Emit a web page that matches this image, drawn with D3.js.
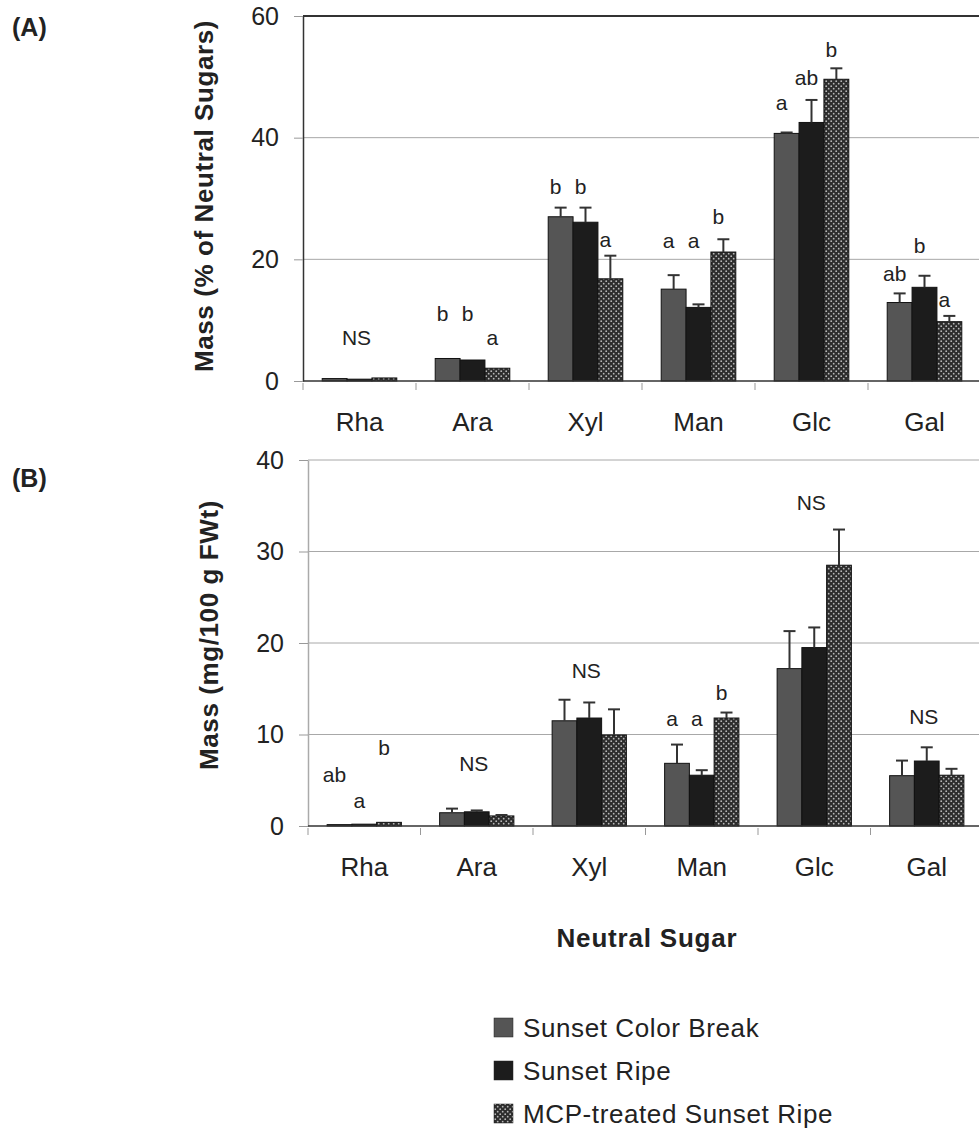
<!DOCTYPE html>
<html>
<head>
<meta charset="utf-8">
<script src="https://cdn.jsdelivr.net/npm/d3@7"></script>
<style>
  body { margin: 0; background: #fff; }
  text { font-family: "Liberation Sans", Arial, sans-serif; fill: #222; }
</style>
</head>
<body>
<div id="chart"></div>
<script>

// ---------------- data ----------------

const sugars = ["Rha", "Ara", "Xyl", "Man", "Glc", "Gal"];
const series = ["Sunset Color Break", "Sunset Ripe", "MCP-treated Sunset Ripe"];

// (A) mass, % of neutral sugars
const pctColorBreak = [0.4, 3.7, 27.0, 15.1, 40.7, 12.9];
const pctRipe       = [0.3, 3.45, 26.1, 12.1, 42.5, 15.4];
const pctMCP        = [0.5, 2.1, 16.8, 21.2, 49.6, 9.75];
const pctErrColorBreak = [0, 0, 1.5, 2.3, 0.15, 1.5];
const pctErrRipe       = [0, 0, 2.4, 0.5, 3.7, 1.9];
const pctErrMCP        = [0, 0, 3.8, 2.1, 1.8, 0.95];
const pctLetters = [
    ["", "b", "b", "a", "a", "ab"],
    ["", "b", "b", "a", "ab", "b"],
    ["", "a", "a", "b", "b", "a"]
];
// height (in % units) where each letter sits
const pctLetterAt = [
    [0, 9.9, 30.7, 21.9, 44.5, 16.4],
    [0, 9.9, 30.7, 21.9, 48.7, 21.0],
    [0, 5.9, 22.0, 25.8, 53.3, 12.2]
];
const pctNS = [{sugar: "Rha", at: 6.0}];

// (B) mass, mg / 100 g FWt
const mgColorBreak = [0.15, 1.45, 11.5, 6.85, 17.2, 5.5];
const mgRipe       = [0.2, 1.55, 11.8, 5.55, 19.5, 7.1];
const mgMCP        = [0.4, 1.1, 9.95, 11.8, 28.5, 5.55];
const mgErrColorBreak = [0, 0.45, 2.3, 2.05, 4.1, 1.65];
const mgErrRipe       = [0, 0.15, 1.7, 0.55, 2.2, 1.5];
const mgErrMCP        = [0, 0.1, 2.8, 0.6, 3.9, 0.7];
const mgLetters = [
    ["ab", "", "", "a", "", ""],
    ["a", "", "", "a", "", ""],
    ["b", "", "", "b", "", ""]
];
const mgLetterAt = [
    [4.8, 0, 0, 10.9, 0, 0],
    [1.97, 0, 0, 10.9, 0, 0],
    [7.76, 0, 0, 13.8, 0, 0]
];
const mgNS = [
    {sugar: "Ara", at: 6.0},
    {sugar: "Xyl", at: 16.2},
    {sugar: "Glc", at: 34.5},
    {sugar: "Gal", at: 11.1}
];

const yTicksA = [0, 20, 40, 60];
const yTicksB = [0, 10, 20, 30, 40];


// ---------------- container ----------------

const svg = d3.select("#chart")
    .append("svg")
    .attr("width", 979)
    .attr("height", 1134);

// dotted fill for the MCP bars
const pat = svg.append("defs").append("pattern")
    .attr("id", "dots")
    .attr("patternUnits", "userSpaceOnUse")
    .attr("width", 5)
    .attr("height", 5);
pat.append("rect").attr("width", 5).attr("height", 5).attr("fill", "#2d2d2d");
pat.append("circle").attr("cx", 1.2).attr("cy", 1.2).attr("r", 0.9).attr("fill", "#b8b8b8");
pat.append("circle").attr("cx", 3.7).attr("cy", 3.7).attr("r", 0.9).attr("fill", "#b8b8b8");

const fills = ["#555555", "#1c1c1c", "url(#dots)"];


// ---------------- one panel ----------------

function drawPanel(p) {
    const x = d3.scaleBand().domain(sugars).range([p.left, p.right]);
    const xs = d3.scaleBand().domain(series)
        .range([x.bandwidth() * 0.17, x.bandwidth() * 0.83]);
    const y = d3.scaleLinear().domain([0, d3.max(p.ticks)]).range([p.bottom, p.top]);

    const g = svg.append("g");

    // gridlines
    g.selectAll(".grid")
        .data(p.ticks.slice(1))
        .enter()
        .append("line")
        .attr("x1", p.left).attr("x2", p.right)
        .attr("y1", (d) => y(d)).attr("y2", (d) => y(d))
        .attr("stroke", (d) => (p.frameTop && d === d3.max(p.ticks)) ? "#333" : "#a8a8a8")
        .attr("stroke-width", (d) => (p.frameTop && d === d3.max(p.ticks)) ? 2 : 1);

    // y axis
    const ya = g.append("g")
        .attr("transform", "translate(" + p.left + ",0)")
        .call(d3.axisLeft(y).tickValues(p.ticks).tickSize(9).tickPadding(15).tickSizeOuter(0));
    ya.select(".domain").attr("stroke", p.axisColor).attr("stroke-width", 1.5);
    ya.selectAll(".tick line").attr("stroke", "#999");
    ya.selectAll(".tick text").style("font-size", "25px").attr("fill", "#222");

    // category boundary ticks and base line
    g.selectAll(".xtick")
        .data(sugars)
        .enter()
        .append("line")
        .attr("x1", (d) => x(d)).attr("x2", (d) => x(d))
        .attr("y1", y(0) + 2).attr("y2", y(0) + 9)
        .attr("stroke", "#999");

    const xa = g.append("g")
        .attr("transform", "translate(0," + y(0) + ")")
        .call(d3.axisBottom(x).tickSize(0).tickPadding(32));
    xa.select(".domain").remove();
    xa.selectAll(".tick text").style("font-size", "26px").attr("fill", "#222");

    // bars
    const rows = [];
    series.forEach((s, i) => {
        sugars.forEach((c, j) => {
            rows.push({s: s, i: i, c: c, v: p.means[i][j], e: p.errs[i][j],
                       letter: p.letters[i][j], at: p.letterAt[i][j]});
        });
    });

    g.selectAll(".bar")
        .data(rows)
        .enter()
        .append("rect")
        .attr("x", (d) => x(d.c) + xs(d.s))
        .attr("y", (d) => y(d.v))
        .attr("width", xs.bandwidth())
        .attr("height", (d) => y(0) - y(d.v))
        .attr("fill", (d) => fills[d.i])
        .attr("stroke", "#111")
        .attr("stroke-width", 1);

    g.append("line")
        .attr("x1", p.left).attr("x2", p.right)
        .attr("y1", y(0)).attr("y2", y(0))
        .attr("stroke", "#333").attr("stroke-width", 1.5);

    // error bars (upper half only)
    const withErr = rows.filter((d) => d.e > 0);
    const cx = (d) => x(d.c) + xs(d.s) + xs.bandwidth() / 2;
    g.selectAll(".err")
        .data(withErr)
        .enter()
        .append("line")
        .attr("x1", cx).attr("x2", cx)
        .attr("y1", (d) => y(d.v)).attr("y2", (d) => y(d.v + d.e))
        .attr("stroke", "#333").attr("stroke-width", 2);
    g.selectAll(".cap")
        .data(withErr)
        .enter()
        .append("line")
        .attr("x1", (d) => cx(d) - 6).attr("x2", (d) => cx(d) + 6)
        .attr("y1", (d) => y(d.v + d.e)).attr("y2", (d) => y(d.v + d.e))
        .attr("stroke", "#333").attr("stroke-width", 2);

    // significance letters
    g.selectAll(".letter")
        .data(rows.filter((d) => d.letter !== ""))
        .enter()
        .append("text")
        .attr("x", (d) => cx(d) - 5)
        .attr("y", (d) => y(d.at))
        .attr("text-anchor", "middle")
        .style("font-size", "21px")
        .text((d) => d.letter);

    g.selectAll(".ns")
        .data(p.ns)
        .enter()
        .append("text")
        .attr("x", (d) => x(d.sugar) + x.bandwidth() / 2 - 3)
        .attr("y", (d) => y(d.at))
        .attr("text-anchor", "middle")
        .style("font-size", "21px")
        .text("NS");

    // y title and panel tag
    g.append("text")
        .attr("transform", "translate(" + p.titleX + "," + p.titleY + ") rotate(-90)")
        .attr("text-anchor", "middle")
        .style("font-size", "26px")
        .style("font-weight", "bold")
        .style("letter-spacing", "0.6px")
        .text(p.title);

    g.append("text")
        .attr("x", 12)
        .attr("y", p.tagY)
        .style("font-size", "25px")
        .style("font-weight", "bold")
        .text(p.tag);

    return x;
}

drawPanel({
    left: 303, right: 981, top: 16, bottom: 381,
    ticks: yTicksA, frameTop: true, axisColor: "#333",
    means: [pctColorBreak, pctRipe, pctMCP],
    errs: [pctErrColorBreak, pctErrRipe, pctErrMCP],
    letters: pctLetters, letterAt: pctLetterAt, ns: pctNS,
    title: "Mass (% of Neutral Sugars)", titleX: 213, titleY: 196,
    tag: "(A)", tagY: 36
});

drawPanel({
    left: 308, right: 983, top: 460, bottom: 826,
    ticks: yTicksB, frameTop: false, axisColor: "#aaa",
    means: [mgColorBreak, mgRipe, mgMCP],
    errs: [mgErrColorBreak, mgErrRipe, mgErrMCP],
    letters: mgLetters, letterAt: mgLetterAt, ns: mgNS,
    title: "Mass (mg/100 g FWt)", titleX: 218, titleY: 635,
    tag: "(B)", tagY: 487
});

svg.append("text")
    .attr("x", 647)
    .attr("y", 947)
    .attr("text-anchor", "middle")
    .style("font-size", "26px")
    .style("font-weight", "bold")
    .style("letter-spacing", "0.8px")
    .text("Neutral Sugar");


// ---------------- legend ----------------

const legend = svg.selectAll(".legend")
    .data(series)
    .enter()
    .append("g")
    .attr("transform", (d, i) => "translate(494," + (1037 + i * 43) + ")");

legend.append("rect")
    .attr("x", 0).attr("y", -19)
    .attr("width", 19).attr("height", 19)
    .attr("fill", (d, i) => fills[i])
    .attr("stroke", "#222").attr("stroke-width", 0.5);

legend.append("text")
    .attr("x", 29)
    .attr("y", 0)
    .style("font-size", "26px")
    .style("letter-spacing", "0.6px")
    .text((d) => d);

</script>
</body>
</html>
